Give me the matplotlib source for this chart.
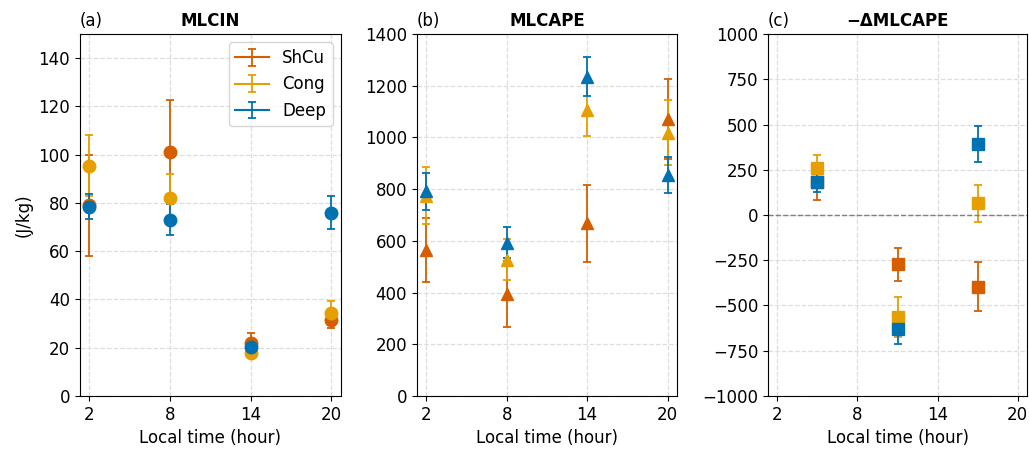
import numpy as np
import matplotlib
matplotlib.use("Agg")
import matplotlib.pyplot as plt

groups = ["ShCu", "Cong", "Deep"]
colors = ["#d55e00", "#e69f00", "#0072b2"]

hours = [2, 8, 14, 20]
mid_hours = [5, 11, 17]

# MLCIN (J/kg): mean and error per group
cin_mean = {"ShCu": [79, 101, 22, 31.5], "Cong": [95.5, 82, 17.7, 34.5], "Deep": [78.5, 73, 20.5, 76]}
cin_err = {"ShCu": [21, 21.5, 4, 3.5], "Cong": [12.7, 10, 2, 5], "Deep": [5.3, 6.4, 2, 6.8]}

# MLCAPE (J/kg)
cape_mean = {"ShCu": [566, 395, 668, 1070], "Cong": [775, 527, 1107, 1018], "Deep": [791, 592, 1235, 856]}
cape_err = {"ShCu": [124, 127, 150, 155], "Cong": [110, 80, 102, 125], "Deep": [70, 60, 76, 70]}

# -dMLCAPE (J/kg) between consecutive times
dcape_mean = {"ShCu": [185, -272, -397], "Cong": [259, -563, 64], "Deep": [183, -631, 392]}
dcape_err = {"ShCu": [103, 92, 135], "Cong": [72, 110, 102], "Deep": [55, 83, 100]}

plt.rcParams["font.family"] = "DejaVu Sans"
fig = plt.figure(figsize=(10.29, 4.54), dpi=100)
bottom, height = 0.1278, 0.7972
axes = [
    fig.add_axes([0.0777, bottom, 0.2536, height]),
    fig.add_axes([0.4052, bottom, 0.2527, height]),
    fig.add_axes([0.7464, bottom, 0.2517, height]),
]

panels = [
    (axes[0], hours, cin_mean, cin_err, "o", "(a)", "MLCIN", (0, 150)),
    (axes[1], hours, cape_mean, cape_err, "^", "(b)", "MLCAPE", (0, 1400)),
    (axes[2], mid_hours, dcape_mean, dcape_err, "s", "(c)", "\u2212\u0394MLCAPE", (-1000, 1000)),
]

for ax, xs, means, errs, mk, tag, title, ylim in panels:
    for g, c in zip(groups, colors):
        ax.errorbar(xs, means[g], yerr=errs[g], fmt=mk, color=c, ecolor=c,
                    markersize=9, capsize=3, elinewidth=1.3, capthick=1.3)
    ax.set_xlim(1.3, 20.7)
    ax.set_xticks(hours)
    ax.set_ylim(*ylim)
    ax.grid(True, linestyle="--", color="#dddddd", linewidth=0.9)
    ax.set_axisbelow(True)
    ax.set_xlabel("Local time (hour)", fontsize=12)
    ax.tick_params(labelsize=12)
    ax.set_title(tag, loc="left", fontsize=12)
    ax.set_title(title, fontsize=12, fontweight="bold")

# legend proxies: error bar with a line, no marker
for g, c in zip(groups, colors):
    axes[0].errorbar([np.nan], [np.nan], yerr=[1], fmt="-", color=c,
                     capsize=3, elinewidth=1.3, capthick=1.3, label=g)

axes[0].set_ylabel("(J/kg)", fontsize=12)
axes[0].set_yticks(np.arange(0, 141, 20))
axes[2].set_yticks(np.arange(-1000, 1001, 250))
axes[2].axhline(0, color="gray", linestyle="--", linewidth=1)
axes[0].legend(loc="upper right", fontsize=12)

fig.savefig("out.png", dpi=100)
